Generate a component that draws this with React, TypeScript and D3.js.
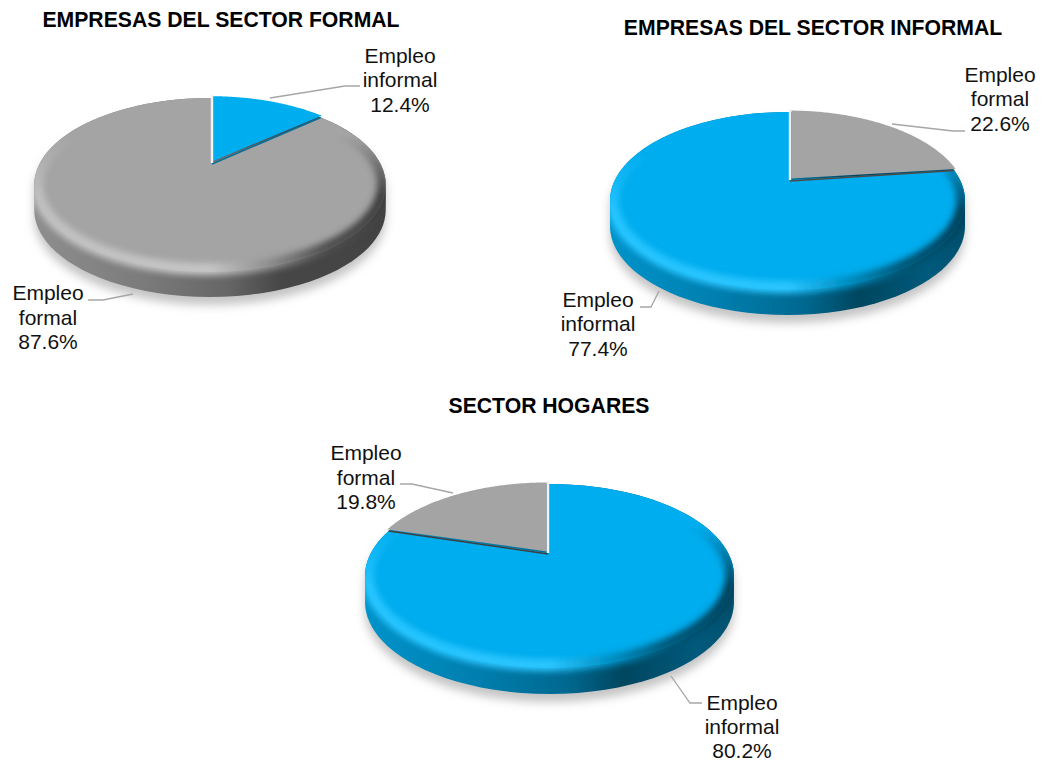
import React from "react";
import * as d3 from "d3";

// ---- data ----
const titles = ["EMPRESAS DEL SECTOR FORMAL", "EMPRESAS DEL SECTOR INFORMAL", "SECTOR HOGARES"];
const sliceNames = [
  ["informal", "formal"],
  ["formal", "informal"],
  ["informal", "formal"],
];
const sliceValues = [
  [12.4, 87.6],
  [22.6, 77.4],
  [80.2, 19.8],
];

// ---- styles and layout ----
const FONT = "'Liberation Sans', Arial, sans-serif";
const faceColors: Record<string, string> = { informal: "#00ADEE", formal: "#A4A4A4" };
const edgeColors = ["#0A6E98", "#4A4A4A", "#404040"];
const sideStops: Record<string, [number, string][]> = {
  formal: [[0, "#8E8E8E"], [0.3, "#7C7C7C"], [0.55, "#666666"], [0.7, "#474747"], [1, "#434343"]],
  informal: [[0, "#0093CA"], [0.3, "#007FAF"], [0.55, "#00688F"], [0.7, "#00465F"], [0.9, "#005A7C"], [1, "#00506E"]],
};
const rimStops: Record<string, [number, string][]> = {
  formal: [[0, "#C0C0C0"], [0.5, "#C6C6C6"], [0.66, "#909090"], [0.82, "#525252"], [1, "#3E3E3E"]],
  informal: [[0, "#25C4FF"], [0.5, "#2CC6FF"], [0.66, "#0090C4"], [0.82, "#005878"], [1, "#003F58"]],
};
const pies = [
  { cx: 210, ax: 212, ay: 163, R: 170, A: 81.4, k: -0.253, depth: 25, titleX: 221, titleY: 27 },
  { cx: 787.5, ax: 790, ay: 180, R: 172.5, A: 84, k: -0.236, depth: 25, titleX: 813, titleY: 35 },
  { cx: 549.5, ax: 548, ay: 553, R: 178.6, A: 86.25, k: -0.25, depth: 26, titleX: 549, titleY: 413 },
];
const labels = [
  [
    { x: 400, ys: [63, 87, 112], leader: [[270, 98], [345, 86], [360, 86]] },
    { x: 48, ys: [300, 325, 349], leader: [[133, 294], [103, 300], [88, 300]] },
  ],
  [
    { x: 1000, ys: [82, 106, 131], leader: [[892, 124], [953, 131], [965, 131]] },
    { x: 598, ys: [307, 331, 356], leader: [[659, 291], [651, 307], [640, 307]] },
  ],
  [
    { x: 742, ys: [710, 734, 758], leader: [[671, 676], [690, 703], [702, 703]] },
    { x: 366, ys: [460, 485, 509], leader: [[453, 493], [412, 484], [400, 484]] },
  ],
];

type P = [number, number];
const pathLine = d3.line<P>();

function Pie({ index }: { index: number }) {
  const g = pies[index];
  const values = sliceValues[index];
  const names = sliceNames[index];
  const denom = (v: number) => 1 + g.k * v;
  const project = (t: number): P => {
    const w = t + 0.07 * Math.sin(2 * t);
    const u = Math.sin(w), v = -Math.cos(w);
    return [g.cx + (g.R * u) / denom(v), g.ay + (g.A * v) / denom(v)];
  };
  const t0 = Math.asin(((g.ax - g.cx) * (1 - g.k)) / g.R) / 1.14;
  const arcs = d3.pie<number>().sort(null).startAngle(t0).endAngle(t0 + 2 * Math.PI)(values);
  const sample = (a: number, b: number) =>
    d3.range(0, 121).map((i) => project(a + ((b - a) * i) / 120));

  const outline = sample(0, 2 * Math.PI);
  const xs = outline.map((p) => p[0]);
  const ys = outline.map((p) => p[1]);
  const x0 = d3.min(xs)!, x1 = d3.max(xs)!;
  const y0 = d3.min(ys)!, y1 = d3.max(ys)!;
  const xScale = d3.scaleLinear().domain([0, 1]).range([x0, x1]);
  const hull = d3.polygonHull(outline.concat(outline.map((p) => [p[0], p[1] + g.depth] as P)) as any)!;

  const major = arcs.find((a) => a.value >= 50)!;
  const minor = arcs.find((a) => a.value < 50)!;
  const majorName = names[values.indexOf(major.value)];
  const minorName = names[values.indexOf(minor.value)];
  const mid = (minor.startAngle + minor.endAngle) / 2;
  const off: P = [Math.sin(mid) * 2, -Math.cos(mid) * 2];
  const wedge = (a: any) =>
    pathLine(([[g.ax, g.ay]] as P[]).concat(sample(a.startAngle, a.endAngle))) + "Z";

  // The radial edge that is not the vertical one at twelve o'clock.
  const edgeAngle = index === 2 ? minor.startAngle : minor.endAngle;
  const edgeEnd = project(edgeAngle);
  const c = [(x0 + x1) / 2, (y0 + y1) / 2];
  const rimPath = pathLine(
    sample(0.95, 2 * Math.PI - 0.95).map(
      (p) => [c[0] + (p[0] - c[0]) * 0.985, c[1] + (p[1] - c[1]) * 0.97] as P
    )
  )!;

  const id = `p${index}`;
  const stopEls = (stops: [number, string][]) =>
    stops.map(([o, col], i) => <stop key={i} offset={o} stopColor={col} />);
  const cy = c[1];

  return (
    <g>
      <defs>
        <linearGradient id={`${id}side`} gradientUnits="userSpaceOnUse" x1={xScale(0)} x2={xScale(1)} y1={0} y2={0}>
          {stopEls(sideStops[majorName])}
        </linearGradient>
        <linearGradient id={`${id}rim`} gradientUnits="userSpaceOnUse" x1={xScale(0)} x2={xScale(1)} y1={0} y2={0}>
          {stopEls(rimStops[majorName])}
        </linearGradient>
        <linearGradient id={`${id}fade`} gradientUnits="userSpaceOnUse" x1={0} x2={0} y1={cy - 50} y2={cy + 10}>
          <stop offset={0} stopColor="#000" />
          <stop offset={1} stopColor="#fff" />
        </linearGradient>
        <mask id={`${id}mask`} maskUnits="userSpaceOnUse" x={0} y={0} width={1043} height={762}>
          <rect x={0} y={0} width={1043} height={762} fill={`url(#${id}fade)`} />
        </mask>
        <clipPath id={`${id}clip`}>
          <path d={pathLine(hull as any) + "Z"} />
        </clipPath>
        <filter id={`${id}blur`} x="-10%" y="-10%" width="120%" height="120%">
          <feGaussianBlur stdDeviation={5} />
        </filter>
        <filter id={`${id}rimblur`} filterUnits="userSpaceOnUse" x={0} y={0} width={1043} height={762}>
          <feGaussianBlur stdDeviation={3.4} />
        </filter>
      </defs>

      <path d={pathLine(hull as any) + "Z"} transform="translate(0,8)" fill="#C4C4C4" filter={`url(#${id}blur)`} />
      <path d={pathLine(hull as any) + "Z"} fill={`url(#${id}side)`} />

      <path d={wedge(major)} fill={faceColors[majorName]} />
      <g clipPath={`url(#${id}clip)`}>
        <g mask={`url(#${id}mask)`}>
          <path d={rimPath} fill="none" stroke={`url(#${id}rim)`} strokeWidth={12} filter={`url(#${id}rimblur)`} />
        </g>
      </g>
      <g transform={`translate(${off[0]},${off[1]})`}>
        <path d={wedge(minor)} fill={faceColors[minorName]} />
      </g>
      <path
        d={pathLine([[g.ax, g.ay + 1], edgeEnd])!}
        stroke={edgeColors[index]}
        strokeWidth={1.6}
        fill="none"
      />
      <path
        d={pathLine([[g.ax, g.ay], [g.ax, y0 - 3]])!}
        stroke="#F2F2F2"
        strokeWidth={2.4}
        fill="none"
      />

      <text x={g.titleX} y={g.titleY} textAnchor="middle" fontFamily={FONT} fontWeight="bold" fontSize={21.2} fill="#000">
        {titles[index]}
      </text>

      {arcs.map((a, i) => {
        const l = labels[index][i];
        const lines = ["Empleo", names[i], `${values[i].toFixed(1)}%`];
        return (
          <g key={i}>
            <path d={pathLine(l.leader as P[])!} fill="none" stroke="#A6A6A6" strokeWidth={1.3} />
            {lines.map((t, j) => (
              <text key={j} x={l.x} y={l.ys[j]} textAnchor="middle" fontFamily={FONT} fontSize={21} fill="#111">
                {t}
              </text>
            ))}
          </g>
        );
      })}
    </g>
  );
}

export default function App() {
  return (
    <svg
      width={1043}
      height={762}
      viewBox="0 0 1043 762"
      style={{ position: "absolute", left: 0, top: 0, display: "block", background: "#fff" }}
    >
      {pies.map((_, i) => (
        <Pie key={i} index={i} />
      ))}
    </svg>
  );
}
